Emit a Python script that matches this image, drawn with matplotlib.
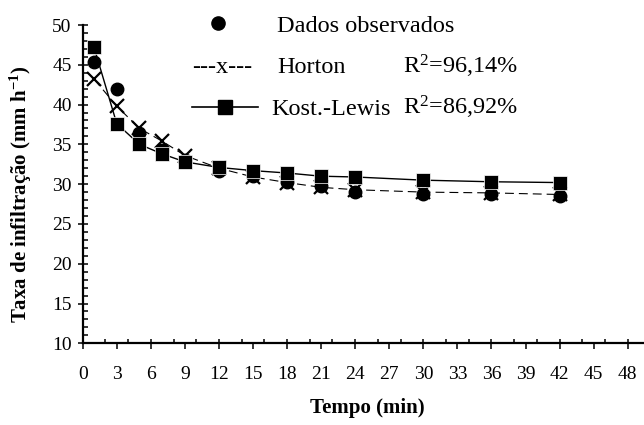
import matplotlib
matplotlib.use("Agg")
import matplotlib.pyplot as plt
from matplotlib.ticker import MultipleLocator
from matplotlib.lines import Line2D

plt.rcParams['font.family'] = ['Liberation Serif', 'DejaVu Serif']
plt.rcParams['mathtext.fontset'] = 'custom'
plt.rcParams['mathtext.rm'] = 'Liberation Serif'
plt.rcParams['mathtext.it'] = 'Liberation Serif:italic'
plt.rcParams['mathtext.bf'] = 'Liberation Serif:bold'

# Data
tempo = [1, 3, 5, 7, 9, 12, 15, 18, 21, 24, 30, 36, 42]
observado = [45.4, 42.0, 36.4, 34.3, 33.0, 31.7, 31.0, 30.3, 29.8, 29.0, 28.7, 28.7, 28.5]
horton = [43.2, 39.8, 37.0, 35.4, 33.6, 32.0, 30.9, 30.2, 29.6, 29.3, 29.0, 28.9, 28.7]
kost_lewis = [47.2, 37.6, 35.0, 33.8, 32.8, 32.1, 31.7, 31.4, 31.0, 30.9, 30.5, 30.3, 30.2]

legend_labels = ["Dados observados", "Horton", "Kost.-Lewis"]
r2_labels = ["R$^{2}$=96,14%", "R$^{2}$=86,92%"]

W, H = 644, 425
fig = plt.figure(figsize=(W / 100, H / 100), dpi=100)

ax_l, ax_b = 82.7 / W, (H - 343.3) / H
ax_t = (H - 25) / H
ax = fig.add_axes([ax_l, ax_b, 1.0 - ax_l, ax_t - ax_b])

ax.plot(tempo, observado, linestyle='none', marker='o', ms=9, color='black', zorder=3)
ax.plot(tempo, horton, linestyle=(0, (8, 4.5)), lw=0.8, marker='x', ms=9.5, mew=1.6,
        color='black', zorder=4)
ax.plot(tempo, kost_lewis, linestyle='-', lw=1.0, marker='s', ms=10, color='black',
        mec='white', mew=0.5, zorder=5)

ax.set_xlim(0, (W - 82.7) / ((627.7 - 82.7) / 48))
ax.set_ylim(10, 50)

for s in ['top', 'right']:
    ax.spines[s].set_visible(False)
for s in ['left', 'bottom']:
    ax.spines[s].set_linewidth(1.6)

ax.xaxis.set_major_locator(MultipleLocator(3))
ax.xaxis.set_minor_locator(MultipleLocator(2))
ax.xaxis.remove_overlapping_locs = False
ax.yaxis.set_major_locator(MultipleLocator(5))
ax.yaxis.set_minor_locator(MultipleLocator(1))

ax.tick_params(axis='x', which='major', direction='out', length=4.5, width=1.1,
               labelsize=14, pad=11.5)
ax.tick_params(axis='x', which='minor', direction='in', length=3.2, width=1.1)
ax.tick_params(axis='y', which='major', direction='inout', length=7.2, width=1.1,
               labelsize=14, pad=4.3)
ax.tick_params(axis='y', which='minor', direction='in', length=3.6, width=1.1)

ax_w_px = W * (1.0 - ax_l)
ax_h_px = 343.3 - 25
ax.set_xlabel("Tempo (min)", fontsize=15, fontweight='bold', ha='center', va='center')
ax.xaxis.set_label_coords((367 - 82.7) / ax_w_px, (343.3 - 408) / ax_h_px)
ax.set_ylabel("Taxa de infiltração (mm h$^{\\mathbf{-1}}$)", fontsize=15, fontweight='bold',
              ha='center', va='center')
ax.yaxis.set_label_coords((21 - 82.7) / ax_w_px, (343.3 - 194) / ax_h_px)

# Legend (manual layout)
def fx(px):
    return px / W

def fy(py):
    return 1 - py / H

lfs = 17.5
fig.add_artist(Line2D([fx(218)], [fy(23)], marker='o', ms=9.5, color='black',
                      linestyle='none', transform=fig.transFigure))
fig.text(fx(277), fy(31.5), legend_labels[0], fontsize=lfs, va='baseline', ha='left')

fig.text(fx(192), fy(73), "---x---", fontsize=lfs, va='baseline', ha='left')
fig.text(fx(277), fy(73), legend_labels[1], fontsize=lfs, va='baseline', ha='left')
fig.text(fx(403), fy(73), r2_labels[0], fontsize=lfs, va='baseline', ha='left')

fig.add_artist(Line2D([fx(192), fx(258)], [fy(107), fy(107)], lw=1.2, color='black',
                      transform=fig.transFigure))
fig.add_artist(Line2D([fx(225)], [fy(107)], marker='s', ms=10, color='black',
                      linestyle='none', transform=fig.transFigure))
fig.text(fx(271), fy(115), legend_labels[2], fontsize=lfs, va='baseline', ha='left')
fig.text(fx(403), fy(115), r2_labels[1], fontsize=lfs, va='baseline', ha='left')

fig.savefig("out.png", dpi=100)
